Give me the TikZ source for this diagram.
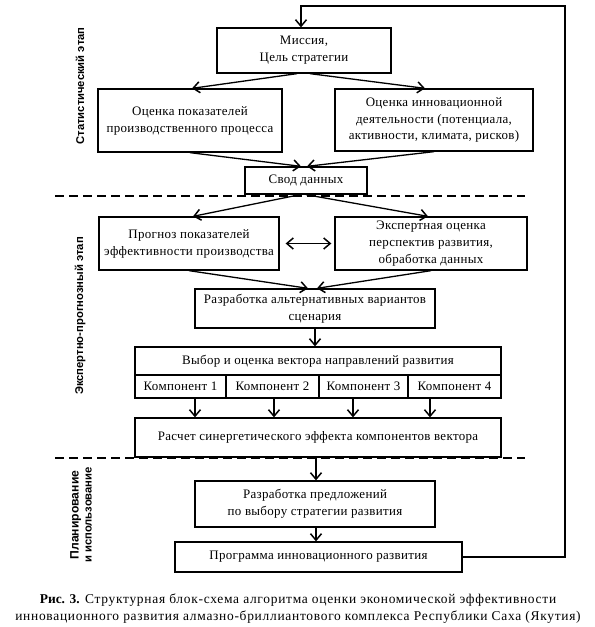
\documentclass[tikz,border=0pt]{standalone}
\usepackage{fontspec}
\setmainfont{Liberation Serif}
\newfontfamily\boxfont[LetterSpace=2.5]{Liberation Serif}
\newfontfamily\capfont[LetterSpace=5.3]{Liberation Serif}
\newfontfamily\lblfont{Liberation Sans}
\usetikzlibrary{arrows.meta,calc}
\begin{document}
\begin{tikzpicture}[x=1bp,y=-1bp,
  box/.style={draw,line width=1.3bp,inner sep=0pt,align=center,
    font=\boxfont\fontsize{13}{17}\selectfont},
  arr/.style={line width=1.3bp,-{Straight Barb[length=6.5bp,width=11bp,line width=1.5bp]}},
  darr/.style={line width=1.3bp,{Straight Barb[length=6.5bp,width=11bp,line width=1.5bp]}-{Straight Barb[length=6.5bp,width=11bp,line width=1.5bp]}},
  sep/.style={line width=1.3bp,dash pattern=on 9bp off 5bp},
  stage/.style={rotate=90,align=center,font=\lblfont\bfseries\fontsize{11.3}{13}\selectfont},
  caption/.style={align=center,font=\capfont\fontsize{13.5}{17}\selectfont}]
\useasboundingbox (0,0) rectangle (595,627);

% nodes
\node[box,minimum width=174bp,minimum height=45bp] (mission) at (304,50.5) {Миссия,\\Цель стратегии};
\node[box,minimum width=184bp,minimum height=63bp] (ocp) at (190,120.5) {Оценка показателей\\производственного процесса};
\node[box,minimum width=198bp,minimum height=62bp] (oid) at (434,120) {Оценка инновационной\\деятельности (потенциала,\\активности, климата, рисков)};
\node[box,minimum width=122bp,minimum height=27bp] (svod) at (306,180.5) {Свод данных};
\node[box,minimum width=180bp,minimum height=53bp] (prog) at (189,243.5) {Прогноз показателей\\эффективности производства};
\node[box,minimum width=192bp,minimum height=53bp] (exp) at (431,243.5) {Экспертная оценка\\перспектив развития,\\обработка данных};
\node[box,minimum width=240bp,minimum height=39bp] (alt) at (315,308.5) {Разработка альтернативных вариантов\\сценария};
\node[box,minimum width=366bp,minimum height=28bp] (vybor) at (318,361) {Выбор и оценка вектора направлений развития};
\node[box,minimum width=91bp,minimum height=23bp] (c1) at (180.5,386.5) {Компонент 1};
\node[box,minimum width=93bp,minimum height=23bp] (c2) at (272.5,386.5) {Компонент 2};
\node[box,minimum width=89bp,minimum height=23bp] (c3) at (363.5,386.5) {Компонент 3};
\node[box,minimum width=93bp,minimum height=23bp] (c4) at (454.5,386.5) {Компонент 4};
\node[box,minimum width=366bp,minimum height=39bp] (rasch) at (318,437.5) {Расчет синергетического эффекта компонентов вектора};
\node[box,minimum width=240bp,minimum height=46bp] (predl) at (315,504) {Разработка предложений\\по выбору стратегии развития};
\node[box,minimum width=287bp,minimum height=30bp] (prg) at (318.5,557) {Программа инновационного развития};

% stage labels
\node[stage] (st1) at (80,86) {Статистический этап};
\node[stage] (st2) at (80,316) {Экспертно-прогнозный этап};
\node[stage] (st3) at (81,515) {{\fontsize{12.2}{13}\selectfont Планирование}\\и использование};

% separators
\coordinate (d1a) at (55,196); \coordinate (d1b) at (525,196);
\coordinate (d2a) at (55,458); \coordinate (d2b) at (525,458);
\draw[sep] (d1a) -- (d1b);
\draw[sep] (d2a) -- (d2b);

% connectors
\draw[arr] ([xshift=-7bp]mission.south) -- ([xshift=2bp]ocp.north);
\draw[arr] ([xshift=6bp]mission.south) -- ([xshift=-9bp]oid.north);
\draw[arr] (ocp.south) -- ([xshift=-5bp]svod.north);
\draw[arr] (oid.south) -- ([xshift=1bp]svod.north);
\draw[arr] ([xshift=-6bp]svod.south) -- ([xshift=4bp]prog.north);
\draw[arr] ([xshift=0bp]svod.south) -- ([xshift=-3bp]exp.north);
\draw[darr,shorten <=6bp,shorten >=3bp] (prog.east) -- (exp.west);
\draw[arr] (prog.south) -- ([xshift=-7bp]alt.north);
\draw[arr] (exp.south) -- ([xshift=2bp]alt.north);
\draw[arr] (alt.south) -- (alt.south |- vybor.north);
\draw[arr] ([xshift=14.5bp]c1.south) -- ([xshift=14.5bp]c1.south |- rasch.north);
\draw[arr] ([xshift=1.5bp]c2.south) -- ([xshift=1.5bp]c2.south |- rasch.north);
\draw[arr] ([xshift=-10.5bp]c3.south) -- ([xshift=-10.5bp]c3.south |- rasch.north);
\draw[arr] ([xshift=-24.5bp]c4.south) -- ([xshift=-24.5bp]c4.south |- rasch.north);
\draw[arr] ([xshift=-2bp]rasch.south) -- ([xshift=-2bp]rasch.south |- predl.north);
\draw[arr] ([xshift=1bp]predl.south) -- ([xshift=1bp]predl.south |- prg.north);
\coordinate (fb) at (565,6);
\draw[arr] (prg.east) -| (fb) -| ([xshift=-3bp]mission.north);

% caption
\node[caption] (cap) at (298,608.5) {{\rmfamily\bfseries Рис. 3.} Структурная блок-схема алгоритма оценки экономической эффективности\\инновационного развития алмазно-бриллиантового комплекса Республики Саха (Якутия)};
\end{tikzpicture}
\end{document}
